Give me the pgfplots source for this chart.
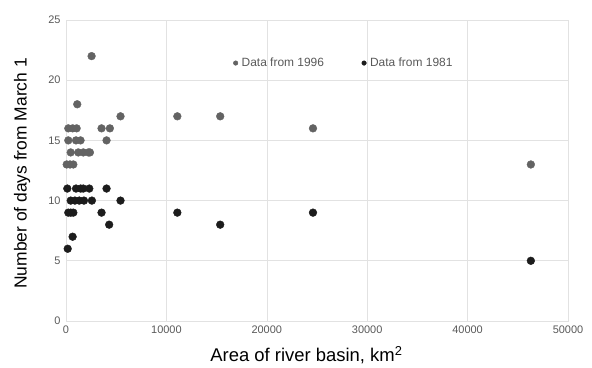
\documentclass[border=0pt]{standalone}
\usepackage{pgfplots}
\pgfplotsset{compat=1.18}
\usepackage{fontspec}
\setmainfont{Liberation Sans}
\definecolor{gray96}{HTML}{636363}
\definecolor{black81}{HTML}{1C1C1C}
\definecolor{gridc}{HTML}{E2E2E2}
\definecolor{tickc}{HTML}{595959}
\begin{document}
\begin{tikzpicture}
\begin{axis}[
  scale only axis,
  width=502bp, height=301bp,
  xmin=0, xmax=50000, ymin=0, ymax=25,
  xtick={0,10000,20000,30000,40000,50000},
  ytick={0,5,10,15,20,25},
  xticklabels={0,10000,20000,30000,40000,50000},
  scaled x ticks=false,
  grid=major,
  major grid style={gridc, line width=0.6pt},
  axis line style={gridc, line width=0.6pt},
  tick style={draw=none},
  /pgf/number format/assume math mode=true,
  ticklabel style={font=\fontsize{11}{12}\selectfont, text=tickc},
  xticklabel style={yshift=-1pt},
  yticklabel style={xshift=-2pt},
  xlabel={Area of river basin, km\textsuperscript{2}},
  ylabel={Number of days from March 1},
  xlabel style={font=\fontsize{18.5}{20}\selectfont, at={(axis description cs:0.479,-0.136)}, anchor=base},
  ylabel style={font=\fontsize{17.5}{20}\selectfont, at={(axis description cs:-0.0876,0.49)}, anchor=center},
  legend style={draw=none, fill=none, at={(rel axis cs:0.333,0.857)}, anchor=west,
    legend columns=2, font=\fontsize{12}{13}\selectfont, text=tickc,
    inner sep=0pt, outer sep=0pt,
    nodes={inner xsep=3.5bp},
    /tikz/every even column/.append style={column sep=34bp}},
  legend cell align=left,
  legend image code/.code={\fill[#1] (0,0) circle (2.3bp);},
  clip=false,
]
\addplot[only marks, mark=*, mark size=3.9pt, color=gray96, mark options={draw=gray96, fill=gray96}] coordinates {
 (2550,22) (1120,18) (5430,17) (11090,17) (15360,17) (24600,16) (46300,13)
 (230,16) (660,16) (1060,16) (3540,16) (4370,16)
 (230,15) (1000,15) (1450,15) (4040,15)
 (470,14) (1220,14) (1720,14) (2220,14) (2380,14)
 (70,13) (400,13) (730,13)
};
\addlegendentry{Data from 1996}
\addplot[only marks, mark=*, mark size=3.9pt, color=black81, mark options={draw=black81, fill=black81}] coordinates {
 (130,11) (1000,11) (1460,11) (1720,11) (2320,11) (4040,11)
 (470,10) (890,10) (1320,10) (1790,10) (2580,10) (5430,10)
 (230,9) (470,9) (730,9) (3540,9) (11090,9) (24600,9)
 (4300,8) (15360,8)
 (660,7) (170,6) (46300,5)
};
\addlegendentry{Data from 1981}
\end{axis}
\path (current axis.south west) ++(-66bp,-44bp) rectangle ++(592bp,365bp);
\end{tikzpicture}
\end{document}
